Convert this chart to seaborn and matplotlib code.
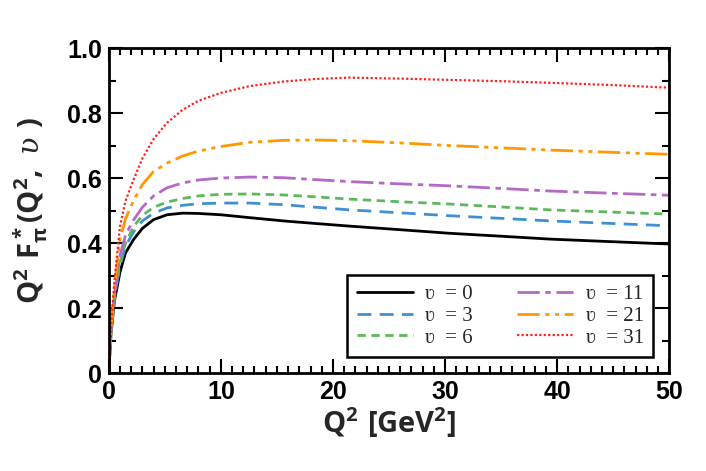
import seaborn as sns
import matplotlib.pyplot as plt
import numpy as np
import pandas as pd
from matplotlib.ticker import MultipleLocator, FixedLocator, FixedFormatter

# values
q2 = [0, 0.2, 0.5, 1.0, 1.5, 2.2, 3.0, 4.0, 5.2, 6.6, 8.0, 10.0, 12.6, 15.6,
      18.5, 21.5, 26.0, 30.4, 35.0, 39.4, 45.0, 50.0]
v0 = [0, 0.12, 0.22, 0.31, 0.37, 0.41, 0.445, 0.472, 0.487, 0.492, 0.491, 0.487,
      0.478, 0.468, 0.46, 0.452, 0.441, 0.43, 0.421, 0.412, 0.404, 0.397]
v3 = [0, 0.12, 0.23, 0.33, 0.39, 0.434, 0.468, 0.492, 0.508, 0.516, 0.521, 0.523,
      0.523, 0.518, 0.51, 0.502, 0.493, 0.484, 0.476, 0.468, 0.46, 0.453]
v6 = [0, 0.12, 0.23, 0.34, 0.40, 0.45, 0.485, 0.51, 0.526, 0.537, 0.545, 0.55,
      0.551, 0.548, 0.542, 0.535, 0.527, 0.52, 0.511, 0.502, 0.495, 0.489]
v11 = [0, 0.13, 0.24, 0.36, 0.425, 0.47, 0.51, 0.545, 0.57, 0.585, 0.594, 0.6,
       0.603, 0.601, 0.595, 0.589, 0.582, 0.576, 0.568, 0.56, 0.553, 0.547]
v21 = [0, 0.13, 0.26, 0.41, 0.475, 0.53, 0.58, 0.62, 0.646, 0.668, 0.683, 0.697,
       0.71, 0.716, 0.717, 0.715, 0.708, 0.70, 0.693, 0.686, 0.679, 0.673]
v31 = [0, 0.14, 0.28, 0.45, 0.53, 0.594, 0.66, 0.72, 0.77, 0.81, 0.838, 0.862,
       0.883, 0.897, 0.905, 0.909, 0.906, 0.902, 0.898, 0.893, 0.886, 0.878]

upsilons = [0, 3, 6, 11, 21, 31]
series = [v0, v3, v6, v11, v21, v31]
colors = ['black', '#3f8fd2', '#5cb85c', '#b469c6', '#ff9800', '#ff2020']
dashes = [None, (5, 3), (3, 2), (8, 2, 2, 2), (8, 2, 1.5, 2, 1.5, 2), (1, 1)]
widths = [2.0, 2.0, 2.0, 2.0, 2.0, 1.6]

sns.set_theme(style="ticks")
plt.rcParams['font.family'] = ['Liberation Sans', 'DejaVu Sans']
plt.rcParams['mathtext.fontset'] = 'custom'
plt.rcParams['mathtext.bf'] = 'Open Sans:bold'
plt.rcParams['mathtext.rm'] = 'Open Sans:bold'
plt.rcParams['mathtext.it'] = 'DejaVu Serif:italic'

fig = plt.figure(figsize=(7.06, 4.71), dpi=100)
ax = fig.add_axes([0.154, 0.208, 0.794, 0.690])

for u, ys, c, d, w in zip(upsilons, series, colors, dashes, widths):
    df = pd.DataFrame({'q2': q2, 'f': ys})
    sns.lineplot(data=df, x='q2', y='f', ax=ax, color=c, lw=w, label=f'ʋ  = {u}')
    if d is not None:
        ax.lines[-1].set_dashes(d)

ax.set_xlim(0, 50)
ax.set_ylim(0, 1.0)
ax.xaxis.set_major_locator(MultipleLocator(10))
ax.xaxis.set_minor_locator(MultipleLocator(1))
ax.yaxis.set_major_locator(FixedLocator([0, 0.2, 0.4, 0.6, 0.8, 1.0]))
ax.yaxis.set_major_formatter(FixedFormatter(['0', '0.2', '0.4', '0.6', '0.8', '1.0']))
ax.yaxis.set_minor_locator(MultipleLocator(0.1))
ax.tick_params(which='both', direction='in', top=True, right=True, width=1.5,
               colors='black')
ax.tick_params(which='major', length=10)
ax.tick_params(which='minor', length=5)
ax.tick_params(axis='both', labelsize=18, pad=5)
for lab in ax.get_xticklabels() + ax.get_yticklabels():
    lab.set_fontweight('bold')
for s in ax.spines.values():
    s.set_linewidth(2)
    s.set_color('black')

ax.set_xlabel(r'$\mathbf{Q^2\ [GeV^2]}$', fontsize=21, labelpad=1)
ax.set_ylabel(r'$\mathbf{Q^2\ F^*_{\pi}(Q^2,}\ \mathit{ʋ}\ \mathbf{)}$', fontsize=21,
              labelpad=12)

leg = ax.legend(ncol=2, loc='lower right', bbox_to_anchor=(0.971, 0.049),
                borderaxespad=0, fancybox=False, edgecolor='black', framealpha=1,
                handlelength=2.7, handletextpad=0.6, columnspacing=2.1,
                borderpad=0.45, labelspacing=0.1,
                prop={'family': ['Liberation Serif', 'DejaVu Serif'], 'size': 15})
leg.get_frame().set_linewidth(1.8)

fig.savefig('out.png', dpi=100)
